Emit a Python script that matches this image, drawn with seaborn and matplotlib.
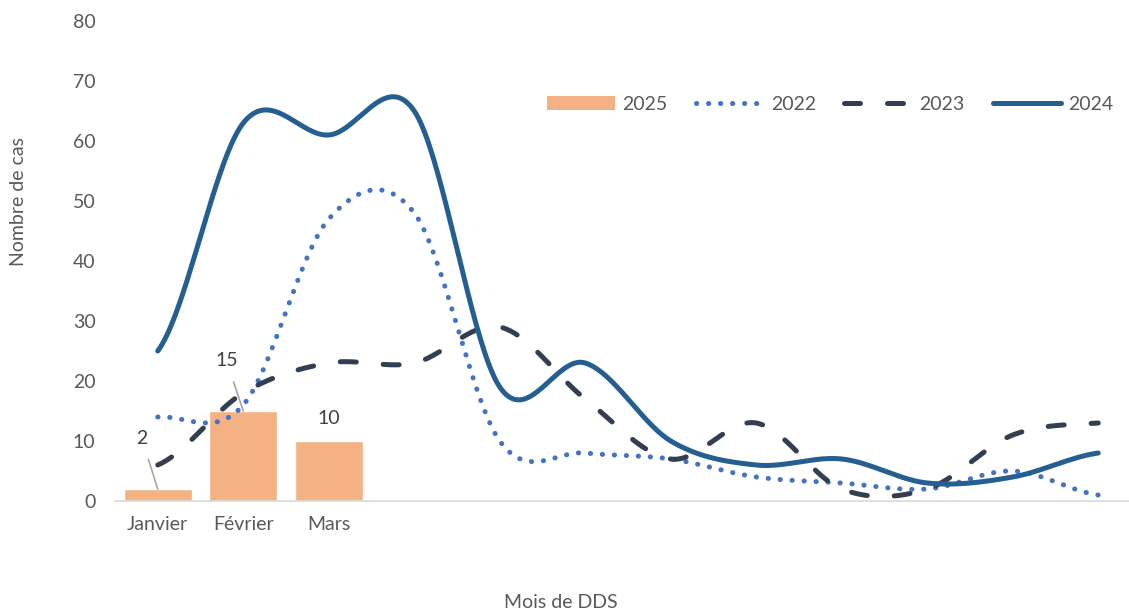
import numpy as np
import pandas as pd
import matplotlib
matplotlib.use("Agg")
import matplotlib.pyplot as plt
from matplotlib.patches import Patch
from matplotlib.lines import Line2D
import seaborn as sns

# ---- data ----
months = ["Janvier", "Février", "Mars", "Avril", "Mai", "Juin", "Juillet",
          "Août", "Septembre", "Octobre", "Novembre", "Décembre"]
tick_labels = ["Janvier", "Février", "Mars"] + [""] * 9
cases_2025 = [2, 15, 10]
cases_2022 = [14, 16, 47, 48, 10, 8, 7, 4, 3, 2, 5, 1]
cases_2023 = [6, 18, 23, 23, 29, 17, 7, 13, 2, 2, 11, 13]
cases_2024 = [25, 63, 61, 65, 19, 23, 10, 6, 7, 3, 4, 8]
yticks = [0, 10, 20, 30, 40, 50, 60, 70, 80]

sns.set_theme(style="white")
plt.rcParams["font.family"] = ["Lato", "DejaVu Sans"]

TXT = "#595959"
C25, C22, C23, C24 = "#F4B183", "#4472C4", "#333F50", "#255E91"
FS = 14


def smooth(vals, n=40):
    """Catmull-Rom curve through the monthly values (Excel 'smoothed line')."""
    y = np.asarray(vals, float)
    k = len(y)
    m = np.zeros(k)
    m[1:-1] = (y[2:] - y[:-2]) / 2
    m[0] = (y[1] - y[0]) / 2
    m[-1] = (y[-1] - y[-2]) / 2
    xs, ys = [], []
    for i in range(k - 1):
        t = np.linspace(0, 1, n, endpoint=(i == k - 2))
        h00 = 2 * t**3 - 3 * t**2 + 1
        h10 = t**3 - 2 * t**2 + t
        h01 = -2 * t**3 + 3 * t**2
        h11 = t**3 - t**2
        xs.append(i + t)
        ys.append(h00 * y[i] + h10 * m[i] + h01 * y[i + 1] + h11 * m[i + 1])
    return pd.DataFrame({"x": np.concatenate(xs), "y": np.concatenate(ys)})


fig = plt.figure(figsize=(11.29, 6.13), dpi=100)
ax = fig.add_axes([115 / 1129, 1 - 501 / 613, 1026 / 1129, 480 / 613])

bars_df = pd.DataFrame({"mois": months[:3], "cas": cases_2025})
sns.barplot(data=bars_df, x="mois", y="cas", order=months, color=C25,
            width=0.795, saturation=1, ax=ax, zorder=1)

lw = 3.6
DOT = (0, (0.05, 2.35))
DASH = (0, (3.2, 5.4))
sns.lineplot(data=smooth(cases_2022), x="x", y="y", ax=ax, color=C22, lw=lw,
             linestyle=DOT, dash_capstyle="round", zorder=3)
sns.lineplot(data=smooth(cases_2023), x="x", y="y", ax=ax, color=C23, lw=lw,
             linestyle=DASH, dash_capstyle="round", zorder=3)
sns.lineplot(data=smooth(cases_2024), x="x", y="y", ax=ax, color=C24, lw=lw,
             solid_capstyle="round", zorder=4)

# data labels of 2025 bars
offsets = [(-11.5, 36.5), (-12, 36), (0, 16.5)]
for i, (v, off) in enumerate(zip(cases_2025, offsets)):
    leader = i < 2
    ax.annotate(str(v), xy=(i, v), xytext=off, textcoords="offset points",
                ha="center", va="center", fontsize=FS, color="#404040",
                arrowprops=dict(arrowstyle="-", color="#A6A6A6", lw=1.2,
                                shrinkA=7, shrinkB=0) if leader else None,
                zorder=5)

ax.set_xlim(-0.5, 11.5)
ax.set_ylim(0, 80)
ax.set_yticks(yticks)
ax.set_xticks(range(12))
ax.set_xticklabels(tick_labels)
ax.tick_params(axis="both", length=0, labelsize=FS, labelcolor=TXT)
ax.tick_params(axis="y", pad=14)
ax.tick_params(axis="x", pad=11)
ax.set_xlabel("")
ax.set_ylabel("")
for s in ["top", "right", "left"]:
    ax.spines[s].set_visible(False)
ax.spines["bottom"].set_color("#D9D9D9")
ax.spines["bottom"].set_linewidth(1.2)
ax.grid(False)

fig.text(561 / 1129, 1 - 603 / 613, "Mois de DDS", ha="center", va="center",
         fontsize=FS, color=TXT)
fig.text(19 / 1129, 1 - 202 / 613, "Nombre de cas", ha="center", va="center",
         rotation=90, fontsize=FS, color=TXT)

handles = [
    Patch(facecolor=C25, edgecolor="none"),
    Line2D([], [], color=C22, lw=lw, linestyle=DOT, dash_capstyle="round"),
    Line2D([], [], color=C23, lw=lw, linestyle=DASH, dash_capstyle="round"),
    Line2D([], [], color=C24, lw=lw, solid_capstyle="round"),
]
leg = fig.legend(handles, ["2025", "2022", "2023", "2024"], ncol=4,
                 loc="center", bbox_to_anchor=(830 / 1129, 1 - 104 / 613),
                 frameon=False, fontsize=FS, handlelength=3.5,
                 handletextpad=0.36, columnspacing=1.45, labelcolor=TXT)

fig.savefig("out.png", dpi=100)
